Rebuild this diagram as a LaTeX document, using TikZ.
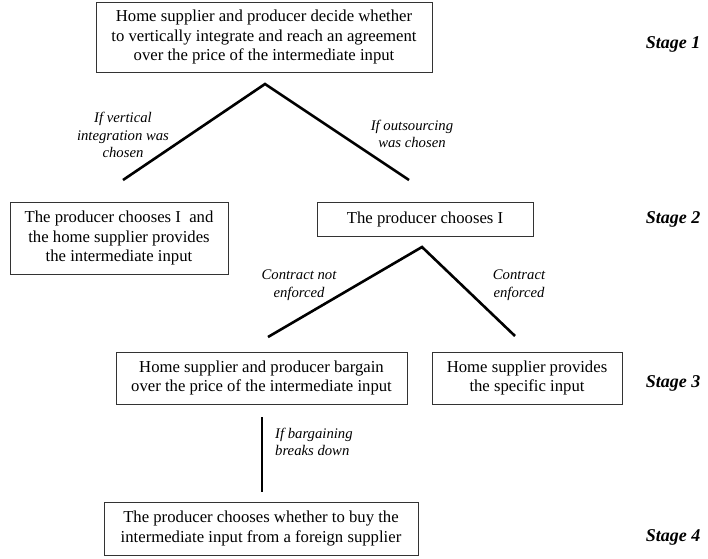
\documentclass[tikz,border=0pt]{standalone}
\usepackage{fontspec}
\setmainfont{Liberation Serif}
\begin{document}
\begin{tikzpicture}[x=1pt,y=-1pt,
  box/.style={draw=black!80,line width=1pt,fill=white,inner sep=0pt,align=center,
    font=\fontsize{16.7}{19.5}\selectfont},
  branch/.style={line width=2.6pt,line cap=butt,line join=miter},
  lbl/.style={inner sep=0pt,align=center,font=\fontsize{14.7}{17.7}\selectfont\itshape},
  stagelbl/.style={inner sep=0pt,font=\fontsize{18}{20}\selectfont\bfseries\itshape}]
\useasboundingbox (0,0) rectangle (708,558);
% boxes
\node[box,minimum width=336pt,minimum height=70pt] (b1) at (264,37)
  {Home supplier and producer decide whether\\to vertically integrate and reach an agreement\\over the price of the intermediate input};
\node[box,minimum width=218pt,minimum height=72pt] (b2l) at (119,238)
  {The producer chooses I\ \ and\\the home supplier provides\\the intermediate input};
\node[box,minimum width=216pt,minimum height=34pt] (b2r) at (425,219)
  {The producer chooses I};
\node[box,minimum width=291pt,minimum height=52pt] (b3l) at (261.5,378)
  {Home supplier and producer bargain\\over the price of the intermediate input};
\node[box,minimum width=190pt,minimum height=52pt] (b3r) at (527,378)
  {Home supplier provides\\the specific input};
\node[box,minimum width=314pt,minimum height=53pt] (b4) at (261,528.5)
  {The producer chooses whether to buy the\\intermediate input from a foreign supplier};
% stage labels
\node[stagelbl] (s1) at (673,44) {Stage 1};
\node[stagelbl] (s2) at (673,219) {Stage 2};
\node[stagelbl] (s3) at (673,383) {Stage 3};
\node[stagelbl] (s4) at (673,537) {Stage 4};
% tree 1
\coordinate (t1) at (265,84);
\coordinate (t1l) at (123,180);
\coordinate (t1r) at (409,180);
\draw[branch] (t1l) -- (t1) -- (t1r);
\node[lbl] (l1) at (123,135) {If vertical\\integration was\\chosen};
\node[lbl] (l2) at (412,134) {If outsourcing\\was chosen};
% tree 2
\coordinate (t2) at (422,247);
\coordinate (t2l) at (268,337);
\coordinate (t2r) at (515,336);
\draw[branch] (t2l) -- (t2) -- (t2r);
\node[lbl] (l3) at (299,285.5) {Contract not\\enforced};
\node[lbl] (l4) at (519,285.5) {Contract\\enforced};
% vertical
\coordinate (v1) at (262,417);
\coordinate (v2) at (262,492);
\draw[branch] (v1) -- (v2);
\node[lbl,align=left,anchor=west] (l5) at (275,442) {If bargaining\\breaks down};
\end{tikzpicture}
\end{document}
